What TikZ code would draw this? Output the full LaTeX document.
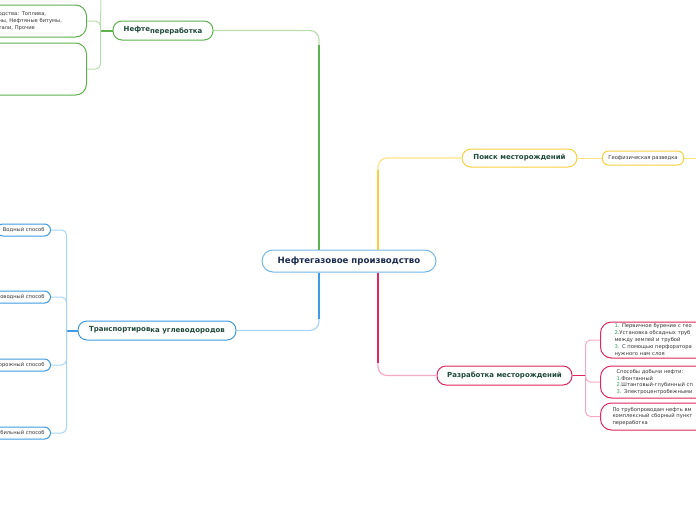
\documentclass[tikz,border=0pt]{standalone}
\usepackage{fontspec}
\setmainfont{DejaVu Sans}
\usepackage{tikz}
\usetikzlibrary{positioning,calc}
\usepackage{xcolor}
\definecolor{rootblue}{HTML}{70B7E8}
\definecolor{navytext}{HTML}{1B2B4F}
\definecolor{topictext}{HTML}{1F4A3A}
\definecolor{leaftext}{HTML}{333333}
\definecolor{numgreen}{HTML}{2E9E5B}
\definecolor{grnB}{HTML}{5DB14E}
\definecolor{grnT}{HTML}{B9DEAD}
\definecolor{ylwB}{HTML}{F6D03F}
\definecolor{ylwT}{HTML}{FBE38A}
\definecolor{bluB}{HTML}{3E9BE3}
\definecolor{bluT}{HTML}{A8D5F7}
\definecolor{pnkB}{HTML}{E0265F}
\definecolor{pnkT}{HTML}{F4A9C4}

\tikzset{
  rootnode/.style={draw=rootblue, line width=1pt, rounded corners=11pt, fill=white,
    minimum width=174pt, minimum height=22pt, text=navytext,
    font=\bfseries\fontsize{8.6}{10}\selectfont},
  topic/.style={draw=#1, line width=1pt, rounded corners=9pt, fill=white,
    minimum height=19pt, text=topictext, font=\bfseries\fontsize{7}{8}\selectfont},
  leaf/.style={draw=#1, line width=1pt, rounded corners=6pt, fill=white,
    minimum height=12pt, inner xsep=6pt, text=leaftext,
    font=\fontsize{5.2}{6}\selectfont},
  note/.style={draw=#1, line width=1pt, rounded corners=11pt, fill=white,
    align=left, inner xsep=14pt, inner ysep=1pt, text=leaftext,
    font=\fontsize{5.2}{6.8}\selectfont},
  trunk/.style={draw=#1, line width=2pt},
  twig/.style={draw=#1, line width=1.2pt, rounded corners=9pt},
  num/.style={text=numgreen},
}
\newcommand{\nr}[1]{\textcolor{numgreen}{#1}}

\begin{document}
\begin{tikzpicture}[x=1pt,y=-1pt]
  \useasboundingbox (0,0) rectangle (696,520);
  \clip (0,0) rectangle (696,520);

  % centre
  \node[rootnode] (root) at (349,261) {Нефтегазовое производство};

  % Нефтепереработка
  \node[topic=grnB, minimum width=100pt] (refine) at (163,30.5)
    {Нефте\raisebox{-1.2pt}{переработка}};
  \node[note=grnB, anchor=east, text width=76pt, inner xsep=12pt, minimum height=32pt,
    inner ysep=2pt] (products) at (87,21)
    {одства: Топлива,\\ны, Нефтяные битумы,\\тали, Прочие};
  \node[note=grnB, anchor=east, minimum width=100pt, minimum height=52pt] (empty) at (87,69) {};
  \coordinate (gj) at ([xshift=-12pt]refine.west);
  \coordinate (gtop) at (101,-6);

  \draw[twig=grnT] ([xshift=-30pt]root.north) |- (refine.east);
  \draw[trunk=grnB] ([xshift=-30pt]root.north) -- ++(0,-205);
  \draw[trunk=grnB] (refine.west) -- (gj);
  \draw[twig=grnT, line width=1pt, rounded corners=5pt] (gtop) -- (gj) |- (empty.east);
  \draw[twig=grnT, line width=1pt, rounded corners=5pt] (gj) |- (products.east);

  % Поиск месторождений
  \node[topic=ylwB, minimum width=115pt, minimum height=18pt] (search) at (519.5,158)
    {Поиск месторождений};
  \node[leaf=ylwB, minimum width=80pt, minimum height=14pt] (geo) at (643,158)
    {Геофизическая разведка};
  \coordinate (yend) at (700,158);

  \draw[twig=ylwT] ([xshift=29pt]root.north) |- (search.west);
  \draw[trunk=ylwB] ([xshift=29pt]root.north) -- ++(0,-80);
  \draw[twig=ylwT, line width=1pt] (search.east) -- (geo.west);
  \draw[twig=ylwT, line width=1pt] (geo.east) -- (yend);

  % Транспортировка углеводородов
  \node[topic=bluB, minimum width=158pt] (transp) at (157,330.5)
    {Транспортиров\raisebox{-1.2pt}{ка углеводородов}};
  \node[leaf=bluB, anchor=east] (water) at (51,230) {Водный способ};
  \node[leaf=bluB, anchor=east] (pipe) at (51,297) {Трубопроводный способ};
  \node[leaf=bluB, anchor=east] (rail) at (51,365) {Железнодорожный способ};
  \node[leaf=bluB, anchor=east] (auto) at (51,433) {Автомобильный способ};
  \coordinate (bj) at ([xshift=-11pt]transp.west);

  \draw[twig=bluT] ([xshift=-30pt]root.south) |- (transp.east);
  \draw[trunk=bluB] ([xshift=-30pt]root.south) -- ++(0,46);
  \draw[trunk=bluB] (transp.west) -- (bj);
  \foreach \m in {water,pipe,rail,auto}
    \draw[twig=bluT, line width=1pt, rounded corners=5pt] (bj) |- (\m.east);

  % Разработка месторождений
  \node[topic=pnkB, minimum width=135pt] (devel) at (504.5,375.5)
    {Разработка месторождений};
  \node[note=pnkB, anchor=west, text width=130pt, minimum height=36pt] (drill) at (600,340)
    {\nr{1.} Первичное бурение с гео\\
     \nr{2.}Установка обсадных труб\\
     между землей и трубой\\
     \nr{3.} С помощью перфоратора\\
     нужного нам слоя};
  \node[note=pnkB, anchor=west, text width=130pt, minimum height=32pt, inner xsep=16pt] (methods) at (600,382)
    {Способы добычи нефти:\\
     \nr{1.}Фонтанный\\
     \nr{2.}Штанговый-глубинный сп\\
     \nr{3.} Электроцентробежными};
  \node[note=pnkB, anchor=west, text width=130pt, minimum height=27pt, inner xsep=12pt] (pipeline) at (600,416.5)
    {По трубопроводам нефть вм\\
     комплексный сборный пункт\\
     переработка};
  \coordinate (pj) at ([xshift=13pt]devel.east);

  \draw[twig=pnkT] ([xshift=29pt]root.south) |- (devel.west);
  \draw[trunk=pnkB] ([xshift=29pt]root.south) -- ++(0,90);
  \draw[trunk=pnkB, line width=1.2pt] (devel.east) -- (pj);
  \foreach \m in {drill,methods,pipeline}
    \draw[twig=pnkT, line width=1pt, rounded corners=5pt] (pj) |- (\m.west);
\end{tikzpicture}
\end{document}
